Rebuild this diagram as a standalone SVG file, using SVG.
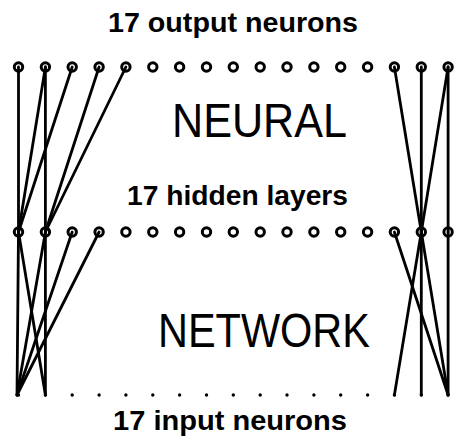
<svg xmlns="http://www.w3.org/2000/svg" width="457" height="444" viewBox="0 0 457 444">
<style>
.n{fill:none;stroke:#000;stroke-width:3}
.d{fill:#000}
.c line{stroke:#000;stroke-width:2.8;stroke-linecap:round}
.lb{font-family:"Liberation Sans",Arial,sans-serif;font-weight:bold;font-size:27px;fill:#000}
.big{font-family:"Liberation Sans",Arial,sans-serif;font-weight:normal;font-size:48px;fill:#000}
</style>
<rect width="457" height="444" fill="#fff"/>
<text class="lb" x="108" y="32" textLength="250" lengthAdjust="spacingAndGlyphs">17 output neurons</text>
<text class="big" x="172" y="137" textLength="175" lengthAdjust="spacingAndGlyphs">NEURAL</text>
<text class="lb" x="127" y="205" textLength="221" lengthAdjust="spacingAndGlyphs">17 hidden layers</text>
<text class="big" x="158" y="347" textLength="212" lengthAdjust="spacingAndGlyphs">NETWORK</text>
<text class="lb" x="113" y="430" textLength="234" lengthAdjust="spacingAndGlyphs">17 input neurons</text>
<g id="output-neurons">
<circle class="n" cx="18.5" cy="67" r="4.2"/><circle class="n" cx="45.4" cy="67" r="4.2"/><circle class="n" cx="72.2" cy="67" r="4.2"/><circle class="n" cx="99.1" cy="67" r="4.2"/><circle class="n" cx="125.9" cy="67" r="4.2"/><circle class="n" cx="152.8" cy="67" r="4.2"/><circle class="n" cx="179.6" cy="67" r="4.2"/><circle class="n" cx="206.5" cy="67" r="4.2"/><circle class="n" cx="233.3" cy="67" r="4.2"/><circle class="n" cx="260.2" cy="67" r="4.2"/><circle class="n" cx="287" cy="67" r="4.2"/><circle class="n" cx="313.9" cy="67" r="4.2"/><circle class="n" cx="340.7" cy="67" r="4.2"/><circle class="n" cx="367.6" cy="67" r="4.2"/><circle class="n" cx="394.4" cy="67" r="4.2"/><circle class="n" cx="421.3" cy="67" r="4.2"/><circle class="n" cx="448.1" cy="67" r="4.2"/>
</g>
<g id="hidden-layers">
<circle class="n" cx="18.5" cy="232" r="4.2"/><circle class="n" cx="45.4" cy="232" r="4.2"/><circle class="n" cx="72.2" cy="232" r="4.2"/><circle class="n" cx="99.1" cy="232" r="4.2"/><circle class="n" cx="125.9" cy="232" r="4.2"/><circle class="n" cx="152.8" cy="232" r="4.2"/><circle class="n" cx="179.6" cy="232" r="4.2"/><circle class="n" cx="206.5" cy="232" r="4.2"/><circle class="n" cx="233.3" cy="232" r="4.2"/><circle class="n" cx="260.2" cy="232" r="4.2"/><circle class="n" cx="287" cy="232" r="4.2"/><circle class="n" cx="313.9" cy="232" r="4.2"/><circle class="n" cx="340.7" cy="232" r="4.2"/><circle class="n" cx="367.6" cy="232" r="4.2"/><circle class="n" cx="394.4" cy="232" r="4.2"/><circle class="n" cx="421.3" cy="232" r="4.2"/><circle class="n" cx="448.1" cy="232" r="4.2"/>
</g>
<g id="input-neurons">
<circle class="d" cx="18.5" cy="395" r="1.7"/><circle class="d" cx="45.4" cy="395" r="1.7"/><circle class="d" cx="72.2" cy="395" r="1.7"/><circle class="d" cx="99.1" cy="395" r="1.7"/><circle class="d" cx="125.9" cy="395" r="1.7"/><circle class="d" cx="152.8" cy="395" r="1.7"/><circle class="d" cx="179.6" cy="395" r="1.7"/><circle class="d" cx="206.5" cy="395" r="1.7"/><circle class="d" cx="233.3" cy="395" r="1.7"/><circle class="d" cx="260.2" cy="395" r="1.7"/><circle class="d" cx="287" cy="395" r="1.7"/><circle class="d" cx="313.9" cy="395" r="1.7"/><circle class="d" cx="340.7" cy="395" r="1.7"/><circle class="d" cx="367.6" cy="395" r="1.7"/><circle class="d" cx="394.4" cy="395" r="1.7"/><circle class="d" cx="421.3" cy="395" r="1.7"/><circle class="d" cx="448.1" cy="395" r="1.7"/>
</g>
<g id="connectors" class="c">
<line x1="18.5" y1="67" x2="18.5" y2="232"/>
<line x1="45.4" y1="67" x2="18.5" y2="232"/>
<line x1="72.2" y1="67" x2="18.5" y2="232"/>
<line x1="45.4" y1="67" x2="45.4" y2="232"/>
<line x1="99.1" y1="67" x2="45.4" y2="232"/>
<line x1="125.9" y1="67" x2="45.4" y2="232"/>
<line x1="394.4" y1="67" x2="421.3" y2="232"/>
<line x1="421.3" y1="67" x2="421.3" y2="232"/>
<line x1="448.1" y1="67" x2="421.3" y2="232"/>
<line x1="448.1" y1="67" x2="448.1" y2="232"/>
<line x1="18.5" y1="232" x2="17" y2="395"/>
<line x1="45.4" y1="232" x2="17" y2="395"/>
<line x1="72.2" y1="232" x2="17" y2="395"/>
<line x1="99.1" y1="232" x2="17" y2="395"/>
<line x1="18.5" y1="232" x2="45.4" y2="395"/>
<line x1="45.4" y1="232" x2="45.4" y2="395"/>
<line x1="394.4" y1="232" x2="448.1" y2="395"/>
<line x1="421.3" y1="232" x2="394.4" y2="395"/>
<line x1="421.3" y1="232" x2="421.3" y2="395"/>
<line x1="421.3" y1="232" x2="448.1" y2="395"/>
<line x1="448.1" y1="232" x2="448.1" y2="395"/>
</g>
</svg>
